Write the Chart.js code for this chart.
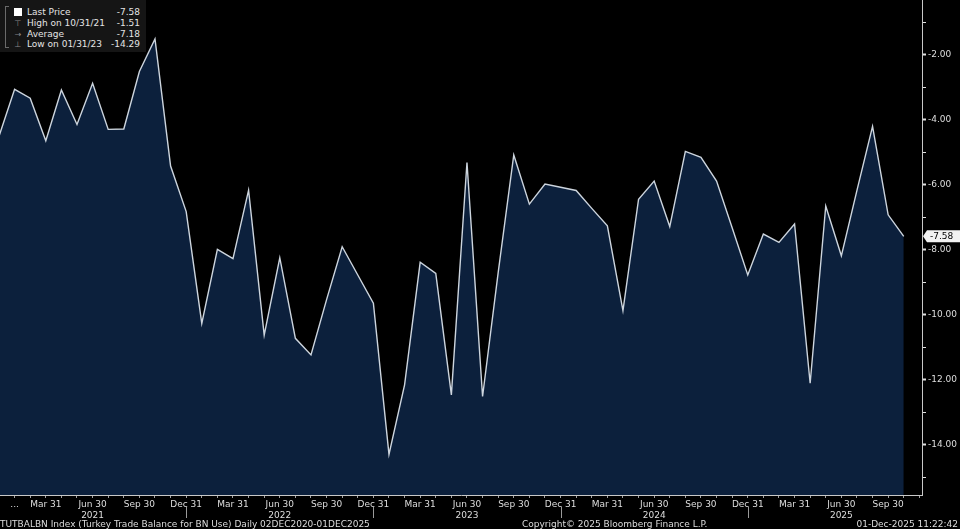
<!DOCTYPE html>
<html>
<head>
<meta charset="utf-8">
<script src="https://cdn.jsdelivr.net/npm/chart.js@4.4.1/dist/chart.umd.min.js"></script>
<style>
  html, body { margin: 0; padding: 0; background: #000; }
  #wrap {
    position: relative; width: 960px; height: 529px; overflow: hidden;
    font-family: 'DejaVu Sans', 'Liberation Sans', sans-serif;
    color: #e4e4e4;
  }
  #wrap canvas { position: absolute; left: 0; top: 0; }
  #legend {
    position: absolute; left: 0; top: 0; width: 146px; height: 52px;
    background: #151515; font-size: 9px;
  }
  #legend .bracket {
    position: absolute; left: 5px; top: 6px; width: 3px; height: 40px;
    border: 1px solid #6a6a6a; border-right: none;
  }
  #legend .row { position: absolute; left: 0; width: 146px; height: 11px; line-height: 11px; }
  #legend .icon { position: absolute; left: 12px; width: 12px; text-align: center; color: #8a8a8a; font-size: 8px; }
  #legend .sq { position: absolute; left: 14px; top: 1px; width: 8px; height: 8px; background: #fff; }
  #legend .lbl { position: absolute; left: 27px; }
  #legend .val { position: absolute; right: 6px; }
  .foot { position: absolute; top: 519px; font-size: 9px; line-height: 11px; color: #dcdcdc; white-space: nowrap; }
</style>
</head>
<body>
<div id="wrap">
  <canvas id="chart" width="960" height="529"></canvas>
  <div id="legend">
    <div class="bracket"></div>
    <div class="row" style="top:7px"><span class="sq"></span><span class="lbl">Last Price</span><span class="val" id="v-last"></span></div>
    <div class="row" style="top:18px"><span class="icon">&#x22A4;</span><span class="lbl" id="l-high"></span><span class="val" id="v-high"></span></div>
    <div class="row" style="top:28.5px"><span class="icon">&#x2192;</span><span class="lbl">Average</span><span class="val" id="v-avg"></span></div>
    <div class="row" style="top:39px"><span class="icon">&#x22A5;</span><span class="lbl" id="l-low"></span><span class="val" id="v-low"></span></div>
  </div>
  <div class="foot" style="left:0">TUTBALBN Index (Turkey Trade Balance for BN Use) Daily 02DEC2020-01DEC2025</div>
  <div class="foot" style="left:522px">Copyright&copy; 2025 Bloomberg Finance L.P.</div>
  <div class="foot" style="right:2px">01-Dec-2025 11:22:42</div>
</div>
<script>
// monthly observations (month end), bn USD
const months = [
  'Dec 2020',
  'Jan 2021', 'Feb 2021', 'Mar 2021', 'Apr 2021', 'May 2021', 'Jun 2021',
  'Jul 2021', 'Aug 2021', 'Sep 2021', 'Oct 2021', 'Nov 2021', 'Dec 2021',
  'Jan 2022', 'Feb 2022', 'Mar 2022', 'Apr 2022', 'May 2022', 'Jun 2022',
  'Jul 2022', 'Aug 2022', 'Sep 2022', 'Oct 2022', 'Nov 2022', 'Dec 2022',
  'Jan 2023', 'Feb 2023', 'Mar 2023', 'Apr 2023', 'May 2023', 'Jun 2023',
  'Jul 2023', 'Aug 2023', 'Sep 2023', 'Oct 2023', 'Nov 2023', 'Dec 2023',
  'Jan 2024', 'Feb 2024', 'Mar 2024', 'Apr 2024', 'May 2024', 'Jun 2024',
  'Jul 2024', 'Aug 2024', 'Sep 2024', 'Oct 2024', 'Nov 2024', 'Dec 2024',
  'Jan 2025', 'Feb 2025', 'Mar 2025', 'Apr 2025', 'May 2025', 'Jun 2025',
  'Jul 2025', 'Aug 2025', 'Sep 2025', 'Oct 2025'
];
const tradeBalance = [
  -4.50,
  -3.06, -3.33, -4.64, -3.08, -4.14, -2.87,
  -4.29, -4.28, -2.51, -1.51, -5.42, -6.82,
  -10.26, -7.98, -8.27, -6.16, -10.62, -8.24,
  -10.72, -11.23, -9.53, -7.90, -8.77, -9.64,
  -14.29, -12.15, -8.38, -8.72, -12.46, -5.31,
  -12.51, -8.70, -5.08, -6.59, -5.97, -6.07,
  -6.17, -6.72, -7.26, -9.87, -6.44, -5.88,
  -7.28, -4.97, -5.15, -5.88, -7.32, -8.77,
  -7.51, -7.77, -7.20, -12.10, -6.65, -8.18,
  -6.17, -4.20, -6.92, -7.58
];

// legend stats
const lastPrice = -7.58;
const highValue = -1.51, highDate = '10/31/21';
const lowValue = -14.29, lowDate = '01/31/23';
const averageValue = -7.18;

// axis ticks
const quarterLabels = { Mar: 'Mar 31', Jun: 'Jun 30', Sep: 'Sep 30', Dec: 'Dec 31' };
const firstTickLabel = '...';
const yMajorTicks = [-2, -4, -6, -8, -10, -12, -14];
const yMinorTicks = [-1, -3, -5, -7, -9, -11, -13, -15];
const yMin = -15.54, yMax = -0.31;
const xMin = 0.064, xMax = 59.17;

document.getElementById('v-last').textContent = lastPrice.toFixed(2);
document.getElementById('l-high').textContent = 'High on ' + highDate;
document.getElementById('v-high').textContent = highValue.toFixed(2);
document.getElementById('v-avg').textContent = averageValue.toFixed(2);
document.getElementById('l-low').textContent = 'Low on ' + lowDate;
document.getElementById('v-low').textContent = lowValue.toFixed(2);

Chart.defaults.font.family = "'DejaVu Sans', 'Liberation Sans', sans-serif";
Chart.defaults.font.size = 9;

function xLabel(i) {
  if (i === 1) return firstTickLabel;
  const m = months[i];
  if (!m) return '';
  const [mon, yr] = m.split(' ');
  if (!quarterLabels[mon]) return '';
  if (mon === 'Jun') return [quarterLabels[mon], yr];
  return quarterLabels[mon];
}

// last price tag + year separators
const bbgDecor = {
  id: 'bbgDecor',
  afterDraw(c) {
    const ctx = c.ctx;
    const xs = c.scales.x, ys = c.scales.y;
    ctx.save();
    ctx.strokeStyle = '#9a9a9a';
    ctx.lineWidth = 1;
    months.forEach((m, i) => {
      if (m.startsWith('Dec') && i > 0) {
        const px = Math.round(xs.getPixelForValue(i)) + 0.5;
        ctx.beginPath();
        ctx.moveTo(px, 507);
        ctx.lineTo(px, 518);
        ctx.stroke();
      }
    });
    const y = ys.getPixelForValue(lastPrice);
    const x = c.chartArea.right;
    ctx.fillStyle = '#f2f2f2';
    ctx.beginPath();
    ctx.moveTo(x + 1, y);
    ctx.lineTo(x + 5, y - 6);
    ctx.lineTo(c.width, y - 6);
    ctx.lineTo(c.width, y + 6);
    ctx.lineTo(x + 5, y + 6);
    ctx.closePath();
    ctx.fill();
    ctx.fillStyle = '#000';
    ctx.font = Chart.helpers.toFont({ size: 9, family: Chart.defaults.font.family }).string;
    ctx.textBaseline = 'middle';
    ctx.textAlign = 'left';
    ctx.fillText(lastPrice.toFixed(2), x + 8, y + 0.5);
    ctx.restore();
  }
};

new Chart(document.getElementById('chart'), {
  type: 'line',
  data: {
    datasets: [{
      data: tradeBalance.map((v, i) => ({ x: i, y: v })),
      borderColor: '#cdd5de',
      borderWidth: 1.4,
      backgroundColor: '#0c203c',
      fill: 'start',
      pointRadius: 0,
      tension: 0,
    }],
  },
  options: {
    responsive: false,
    animation: false,
    layout: { padding: 0 },
    scales: {
      x: {
        type: 'linear',
        min: xMin,
        max: xMax,
        afterBuildTicks: (s) => {
          s.ticks = [];
          for (let i = 1; i <= months.length; i++) s.ticks.push({ value: i });
        },
        afterFit: (s) => {
          s.height = 34;
          s.paddingLeft = 0; s.paddingRight = 0;
        },
        grid: { drawOnChartArea: false, drawTicks: true, tickLength: 3, tickColor: '#a0a0a0' },
        border: { display: true, color: '#c8c8c8', width: 1 },
        ticks: {
          autoSkip: false,
          maxRotation: 0,
          padding: 1,
          color: '#dedede',
          font: { size: 9, lineHeight: 1.2 },
          callback: (v) => xLabel(v),
        },
      },
      y: {
        position: 'right',
        min: yMin,
        max: yMax,
        afterBuildTicks: (s) => {
          s.ticks = yMajorTicks.concat(yMinorTicks).sort((a, b) => a - b).map(v => ({ value: v }));
        },
        afterFit: (s) => {
          s.width = 38;
          s.paddingTop = 0; s.paddingBottom = 0;
        },
        grid: {
          drawOnChartArea: false,
          drawTicks: true,
          tickLength: 4,
          tickColor: '#e0e0e0',
          tickWidth: (ctx) => (ctx.tick && ctx.tick.value % 2 === 0 ? 2 : 1),
        },
        border: { display: true, color: '#c8c8c8', width: 1 },
        ticks: {
          padding: 2,
          color: '#dedede',
          font: { size: 9 },
          callback: (v) => (v % 2 === 0 ? v.toFixed(2) : ''),
        },
      },
    },
    plugins: {
      legend: { display: false },
      tooltip: { enabled: false },
    },
  },
  plugins: [bbgDecor],
});
</script>
</body>
</html>
